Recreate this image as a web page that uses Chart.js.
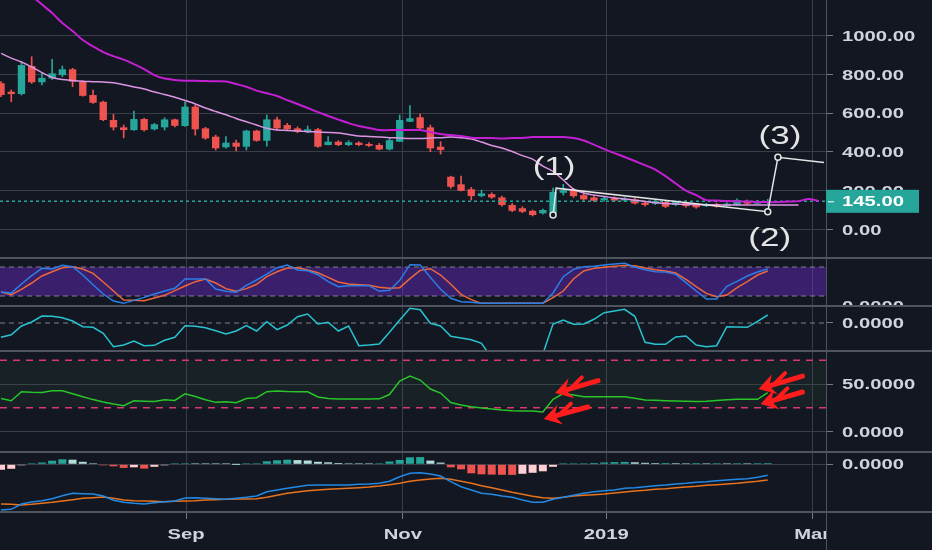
<!DOCTYPE html>
<html>
<head>
<meta charset="utf-8">
<title>BCH 3D chart</title>
<script src="https://cdn.jsdelivr.net/npm/chart.js@4.4.1/dist/chart.umd.min.js"></script>
<style>
  html, body { margin: 0; padding: 0; background: #131722; overflow: hidden; }
  #panes { position: relative; width: 932px; height: 550px; }
  #panes canvas { position: absolute; left: 0; }
</style>
</head>
<body>
<div id="panes">
  <canvas id="priceChart" width="932" height="259" style="top:0"></canvas>
  <canvas id="stochChart" width="932" height="48" style="top:259px"></canvas>
  <canvas id="oscChart" width="932" height="45" style="top:307px"></canvas>
  <canvas id="rsiChart" width="932" height="101" style="top:352px"></canvas>
  <canvas id="macdChart" width="932" height="97" style="top:453px"></canvas>
</div>
<script>
// 3-day candles, x = candle index
const opens  = [755,711,699,844,760,780,797,827,766,694,659,565,527,513,570,517,527,568,534,634,522,479,424,448,427,510,458,568,539,522,504,517,436,453,436,448,441,436,413,453,556,579,527,427,272,233,207,172,182,165,126,109,96,83,83,189,203,177,165,151,161,149,155,137,133,141,126,141,126,120,131,120,126,146,133,137];
const highs  = [763,720,866,892,808,879,844,832,768,720,663,594,539,611,574,548,577,570,659,642,527,487,479,461,513,513,591,580,548,530,534,522,479,458,458,453,448,444,470,591,639,596,539,453,275,275,217,203,189,172,134,117,100,105,213,233,212,188,177,170,168,165,160,142,152,150,146,148,131,136,136,138,158,152,150,155];
const lows   = [685,659,694,754,746,775,789,737,688,651,561,513,473,511,508,513,513,529,532,487,465,410,419,405,410,455,430,513,513,499,499,424,436,432,432,432,427,410,410,453,556,517,401,389,212,199,151,168,160,120,91,86,69,79,74,177,165,150,143,146,144,145,130,120,128,112,122,115,109,117,114,116,122,128,130,133];
const closes = [694,699,849,760,783,806,827,763,690,654,565,527,513,570,513,543,568,535,634,517,470,419,448,427,510,458,568,522,517,504,517,427,453,436,450,436,432,413,461,565,574,522,419,410,220,199,172,186,165,126,96,91,74,100,194,203,172,155,148,161,149,158,134,126,146,117,141,120,114,131,118,133,151,133,144,145];

const maSlow = [1351,1299,1252,1206,1162,1118,1066,1025,978,945,916,895,877,854,828,797,779,772,768,768,766,765,764,751,737,717,703,689,668,648,627,606,586,567,549,534,524,513,513,513,513,513,503,493,487,482,474,472,472,470,472,472,477,477,477,477,472,459,438,415,394,374,353,332,309,275,237,200,177,151,149,146,145,144,142,141,141,144,146,157,146];
const maFast = [909,885,865,839,810,785,774,769,765,763,761,758,747,736,725,710,697,683,666,648,627,609,592,573,556,539,522,513,511,508,505,503,501,498,490,482,480,477,474,472,470,470,472,474,477,474,467,451,433,420,402,381,363,327,299,255,208,188,177,170,162,157,151,144,138,134,131,129,128,127,127,126,126,126,126,126,126,126,126];

const stochK = [28.3,26,44.8,62,77.2,75.8,83.4,80.7,63.4,43.4,24.1,9.6,4.8,11,17.2,24.1,30.3,35.9,55.2,55.2,55.2,34.5,29.7,27.6,42.1,53.1,65.5,78.6,84.1,73.8,72.4,64.1,49.7,39.3,41.4,41.4,41.4,29.7,31.7,52.4,84.8,84.1,58.6,33.8,15.2,8.3,6.9,4.8,4.8,4.8,4.8,4.8,4.8,4.8,26.2,60,75.2,80.7,81.4,84.1,86.2,87.6,80,74.5,70.3,69.6,64.8,47.6,30.3,13.8,13.8,40,50.4,61.4,69.6,75.8];
const stochD = [28.3,22.8,33.8,46.9,61.4,70.3,78.6,80.7,75.8,66.9,49,30.3,11.7,11,10.3,15.9,21.4,31,40.7,49.7,55.2,46.9,35.2,29.7,35.2,44.2,60,70.3,77.9,78.6,73.8,68.2,58.6,49,44.8,43.5,42.1,38,35.9,37.3,55.9,73.1,76.5,63.4,44.2,23.5,12.4,4.8,4.8,4.8,4.8,4.8,4.8,4.8,16.6,30.3,55.2,71.7,77.2,79.3,81.4,83.4,82.8,77.9,74.5,71.7,67.6,54.5,39.3,25.5,18.6,22.1,37.3,49.7,63.4,71.7];
const stochBands = [80, 20];

const oscLine = [-14.3,-11.7,-3,1,7,6.7,5.3,2,-3.7,-4.3,-10.3,-23.7,-22,-18,-22.7,-22.3,-17.3,-14.3,-2.7,-3.3,-4.7,-7.7,-11,-8,-2.7,-8,1.3,-6.7,-2,6.3,9,-1,0.7,-8,-3,-22.7,-22,-21,-9.3,3,14.7,13.3,-0.3,-3,-13.3,-15,-16.7,-20.3,-35,-42,-45,-45,-42,-31,-1,3,-1.3,-1,3.7,10.3,12,13.7,6.7,-19.3,-21.3,-21.3,-14,-13,-22,-23.7,-22.7,-3.7,-4,-4.3,1.7,8];

const rsi = [34.7,32.4,41.9,41.3,41.1,42.9,42.9,39.8,36.7,33.6,31.1,28.9,27.2,32.4,31.9,31.6,33.4,32.7,39.7,36.8,33.5,30.7,31.3,30.4,34.7,35.6,41.9,42.6,42.1,41.9,41.9,36.3,34.7,34.2,34.2,34.2,34.2,34.4,38.9,53.2,58.4,54.2,44.7,40.5,30.5,27.9,26,24.7,23.7,22.6,21.9,21.6,21.6,20.5,34,40,38.4,36.6,36.6,36.6,36.6,36.6,35,33.2,32.8,32.5,32.1,31.8,31.5,31.9,32.7,33.5,33.9,33.9,33.9,41];
const rsiBands = [75, 25];

const macdLine = [-45.7,-45,-39.7,-37.7,-36.4,-34.4,-31.4,-29,-29.4,-29.7,-31.7,-36,-38,-39,-39.7,-38.4,-37.4,-36.7,-33.7,-33.4,-34,-34.4,-35,-34,-33,-31.7,-27.4,-25.7,-24,-22.4,-21,-20.7,-20.7,-20.7,-20.7,-20,-19.7,-19,-17,-12.4,-9,-8.4,-9.7,-11.7,-17.4,-22.4,-25.7,-29,-30,-31.7,-33,-35.7,-38,-38,-35,-33,-31,-29,-27.4,-26.4,-25.7,-24,-23.4,-22.4,-21.4,-20.7,-19.7,-19,-18,-17.4,-16.4,-15.7,-15,-14.4,-13,-11];
const signalLine = [-39.7,-40,-40.7,-40,-39,-38,-36.7,-35.4,-34,-33.4,-32.7,-34,-35.7,-36.4,-36.7,-37,-37.4,-37,-36.7,-36.4,-35.7,-35.4,-35,-34.7,-34.7,-34.4,-33,-31,-29,-27.7,-26.4,-25.7,-25,-24.4,-24,-23.4,-22.7,-21.7,-20.4,-19,-17,-15.7,-14.7,-14,-15,-17,-19,-21.4,-23.4,-25.7,-28,-30,-32,-33.4,-34,-33,-31.7,-31,-30.4,-29.7,-28.7,-27.7,-26.7,-26,-25,-24.4,-23.4,-22.7,-22,-21,-20.4,-19.7,-19,-18,-17,-15.7];
const macdHist = [-5.5,-4.5,-0.5,0.8,1.8,3.6,5,4.6,2.5,1,-1,-2,-3.6,-3,-4.3,-2.5,-0.8,0.3,1,0.6,0.4,0.2,0.1,0,0.5,1,3,4,4.6,4.2,3.8,2.5,2,1.3,1,0.8,0.7,0.9,2.8,4.3,7,7.2,3.7,1.7,-3,-5,-9,-10,-10.3,-10.5,-10.6,-9.5,-8.5,-7,-2.5,0.3,0.6,0.9,1.3,1.8,2.2,2.4,2,1.5,1.2,1.3,1.1,1,1.2,1,1.1,1,1.1,1,1.1,1.2];

const monthTicks = [18.1, 39.3, 59.2, 79.35];
const monthLabels = ['Sep', 'Nov', '2019', 'Mar'];
const priceTicks = [0, 200, 400, 600, 800, 1000];
const lastPrice = 145;

// hand drawn wave count and marks
const wavePath = [{ x: 54, y: 74 }, { x: 54.3, y: 213 }, { x: 75, y: 91 }, { x: 76, y: 372 }, { x: 80.5, y: 346 }];
const waveLabels = [{ x: 54.1, y: 316, text: '(1)' }, { x: 75.2, y: -47, text: '(2)' }, { x: 76.2, y: 479, text: '(3)' }];
const rsiArrows = [
  { x1: 58.4, y1: 53.6, x2: 54.2, y2: 40.5 },
  { x1: 57.4, y1: 25.8, x2: 53.1, y2: 13.2 },
  { x1: 78.4, y1: 58.4, x2: 74.1, y2: 44.7 },
  { x1: 78.4, y1: 41.6, x2: 74.3, y2: 28.9 }
];

const X_MIN = -0.1, X_MAX = 80.7;
const BG = '#131722', GRID = '#393d48', EDGE = '#50545f', TICK = '#787b86', LABEL = '#d1d4dc';
const TEAL = '#26a69a', RED = '#ef5350';
const STRETCH = 1.35;

const pts = arr => arr.map((v, i) => ({ x: i, y: v }));
const hline = v => [{ x: X_MIN, y: v }, { x: X_MAX, y: v }];

function wideText(ctx, text, x, y, align) {
  ctx.save();
  ctx.translate(x, y);
  ctx.scale(STRETCH, 1);
  ctx.textAlign = align;
  ctx.fillText(text, 0, 0);
  ctx.restore();
}

function xAxis(showMarks) {
  return {
    type: 'linear', min: X_MIN, max: X_MAX, offset: false,
    afterBuildTicks: s => { s.ticks = monthTicks.map(v => ({ value: v })); },
    afterFit: s => { s.height = showMarks ? 37 : 0; s.paddingLeft = 0; s.paddingRight = 0; },
    grid: { color: GRID, offset: false, drawTicks: showMarks, tickLength: 6, tickColor: TICK },
    border: { display: false },
    ticks: { display: false }
  };
}

function yAxis(min, max, ticks, gridColor) {
  return {
    type: 'linear', position: 'right', min, max,
    afterBuildTicks: s => { s.ticks = ticks.map(v => ({ value: v })); },
    afterFit: s => { s.width = 106; s.paddingTop = 0; s.paddingBottom = 0; },
    grid: { color: gridColor || GRID, tickLength: 7, tickColor: TICK },
    border: { display: true, color: EDGE },
    ticks: { display: false }
  };
}

function paneOptions(y, digits, withMonths) {
  return {
    responsive: false, animation: false, events: [],
    layout: { autoPadding: false, padding: 0 },
    plugins: {
      legend: { display: false }, tooltip: { enabled: false },
      axisText: { digits, months: withMonths }
    },
    scales: { x: xAxis(withMonths), y }
  };
}

// tick labels, drawn a little wider than the font to match the screenshot
const axisText = {
  id: 'axisText',
  afterDraw(chart, args, opts) {
    const { ctx, chartArea, scales: { x, y } } = chart;
    ctx.save();
    ctx.fillStyle = LABEL;
    ctx.font = 'bold 15px "Liberation Sans"';
    ctx.textBaseline = 'middle';
    y.ticks.forEach(t => wideText(ctx, t.value.toFixed(opts.digits), y.left + 16, y.getPixelForValue(t.value) + 1, 'left'));
    if (opts.months) {
      x.ticks.forEach((t, i) => wideText(ctx, monthLabels[i], x.getPixelForValue(t.value), chartArea.bottom + 22, 'center'));
    }
    ctx.restore();
  }
};

// line along the bottom of each pane, across the price scale too
const paneEdge = {
  id: 'paneEdge',
  afterDraw(chart) {
    const { ctx, chartArea } = chart;
    ctx.save();
    ctx.strokeStyle = EDGE;
    ctx.lineWidth = 2;
    ctx.beginPath();
    ctx.moveTo(0, chartArea.bottom - 1);
    ctx.lineTo(chart.width, chartArea.bottom - 1);
    ctx.stroke();
    ctx.restore();
  }
};

const priceTag = {
  id: 'priceTag',
  afterDraw(chart) {
    const { ctx, scales: { y } } = chart;
    const py = y.getPixelForValue(lastPrice);
    ctx.save();
    ctx.fillStyle = TEAL;
    ctx.fillRect(y.left, py - 11.5, 93, 23);
    ctx.strokeStyle = '#ffffff';
    ctx.lineWidth = 1;
    ctx.beginPath(); ctx.moveTo(y.left + 2, py + 0.5); ctx.lineTo(y.left + 8, py + 0.5); ctx.stroke();
    ctx.fillStyle = '#ffffff';
    ctx.font = 'bold 15px "Liberation Sans"';
    ctx.textBaseline = 'middle';
    wideText(ctx, lastPrice.toFixed(2), y.left + 16, py + 1, 'left');
    ctx.restore();
  }
};

const waveText = {
  id: 'waveText',
  afterDatasetsDraw(chart) {
    const { ctx, scales: { x, y } } = chart;
    ctx.save();
    ctx.fillStyle = '#e4e4e4';
    ctx.font = '26px "Liberation Sans"';
    ctx.textBaseline = 'middle';
    waveLabels.forEach(l => wideText(ctx, l.text, x.getPixelForValue(l.x), y.getPixelForValue(l.y), 'center'));
    ctx.restore();
  }
};

const arrowMarks = {
  id: 'arrowMarks',
  afterDatasetsDraw(chart) {
    const { ctx, scales: { x, y } } = chart;
    ctx.save();
    ctx.strokeStyle = '#ff1c1c';
    ctx.fillStyle = '#ff1c1c';
    ctx.lineCap = 'round';
    ctx.lineJoin = 'round';
    rsiArrows.forEach(a => {
      const tx = x.getPixelForValue(a.x1), ty = y.getPixelForValue(a.y1);
      const hx = x.getPixelForValue(a.x2), hy = y.getPixelForValue(a.y2);
      const ang = Math.atan2(ty - hy, tx - hx);
      const at = (r, d) => [hx + r * Math.cos(ang + d), hy + r * Math.sin(ang + d)];
      ctx.lineWidth = 5;
      ctx.beginPath();
      ctx.moveTo(tx, ty);
      ctx.lineTo(...at(8, 0));
      ctx.stroke();
      ctx.beginPath();
      ctx.moveTo(hx, hy);
      ctx.lineTo(...at(20, -0.55));
      ctx.lineTo(...at(11, 0));
      ctx.lineTo(...at(20, 0.55));
      ctx.closePath();
      ctx.fill();
      // second barb further along the shaft
      ctx.lineWidth = 4;
      const [bx, by] = at(16, 0);
      ctx.beginPath();
      ctx.moveTo(bx, by);
      ctx.lineTo(bx + 16 * Math.cos(ang - 0.5), by + 16 * Math.sin(ang - 0.5));
      ctx.stroke();
    });
    ctx.restore();
  }
};

// hide the part of the last month label that runs under the price scale
const axisCorner = {
  id: 'axisCorner',
  afterDraw(chart) {
    const { ctx, chartArea, scales: { y } } = chart;
    ctx.save();
    ctx.fillStyle = BG;
    ctx.fillRect(y.left + 1, chartArea.bottom, chart.width - y.left, chart.height - chartArea.bottom);
    ctx.strokeStyle = EDGE;
    ctx.lineWidth = 1;
    ctx.beginPath();
    ctx.moveTo(y.left + 0.5, chartArea.bottom);
    ctx.lineTo(y.left + 0.5, chart.height);
    ctx.stroke();
    ctx.restore();
  }
};

const candleColors = closes.map((c, i) => c >= opens[i] ? TEAL : RED);
const histColors = macdHist.map((v, i) => {
  const prev = i > 0 ? macdHist[i - 1] : v;
  if (v >= 0) return v >= prev ? TEAL : '#b2dfdb';
  return v < prev ? RED : '#ffcdd2';
});

// --- price pane ---
new Chart(document.getElementById('priceChart'), {
  type: 'bar',
  data: {
    datasets: [
      { type: 'line', data: wavePath, borderColor: '#e4e4e4', borderWidth: 1.5, tension: 0,
        pointRadius: [3, 0, 3, 3, 0], pointBackgroundColor: BG, pointBorderColor: '#e4e4e4', pointBorderWidth: 1.5 },
      { type: 'line', data: pts(maSlow), borderColor: '#c41fd3', borderWidth: 2, pointRadius: 0, tension: 0.3 },
      { type: 'line', data: pts(maFast), borderColor: '#dc95e4', borderWidth: 1.5, pointRadius: 0, tension: 0.3 },
      { type: 'line', data: hline(lastPrice), borderColor: TEAL, borderWidth: 1.5, borderDash: [3, 3], pointRadius: 0 },
      { type: 'bar', data: opens.map((o, i) => ({ x: i, y: [o, closes[i]] })), backgroundColor: candleColors,
        grouped: false, categoryPercentage: 1, barPercentage: 0.72, minBarLength: 1 },
      { type: 'bar', data: lows.map((l, i) => ({ x: i, y: [l, highs[i]] })), backgroundColor: candleColors,
        grouped: false, barThickness: 1 }
    ]
  },
  options: paneOptions(yAxis(-153, 1185, priceTicks), 2, false),
  plugins: [waveText, axisText, priceTag, paneEdge]
});

// --- stoch RSI pane ---
new Chart(document.getElementById('stochChart'), {
  type: 'line',
  data: {
    datasets: [
      { data: pts(stochK), borderColor: '#2d7fe8', borderWidth: 1.5, pointRadius: 0 },
      { data: pts(stochD), borderColor: '#ec683c', borderWidth: 1.5, pointRadius: 0 },
      { data: hline(stochBands[0]), borderColor: '#80828c', borderWidth: 1, borderDash: [5, 4], pointRadius: 0 },
      { data: hline(stochBands[1]), borderColor: '#80828c', borderWidth: 1, borderDash: [5, 4], pointRadius: 0,
        fill: '-1', backgroundColor: 'rgba(120,45,230,0.38)' }
    ]
  },
  options: paneOptions(yAxis(-2.76, 96.6, [0]), 4, false),
  plugins: [axisText, paneEdge]
});

// --- oscillator pane ---
new Chart(document.getElementById('oscChart'), {
  type: 'line',
  data: {
    datasets: [
      { data: pts(oscLine), borderColor: '#29c3d0', borderWidth: 1.5, pointRadius: 0 },
      { data: hline(0), borderColor: '#80828c', borderWidth: 1, borderDash: [5, 4], pointRadius: 0 }
    ]
  },
  options: paneOptions(yAxis(-29, 16, [0], 'rgba(0,0,0,0)'), 4, false),
  plugins: [axisText, paneEdge]
});

// --- RSI pane ---
new Chart(document.getElementById('rsiChart'), {
  type: 'line',
  data: {
    datasets: [
      { data: pts(rsi), borderColor: '#2ac52a', borderWidth: 1.5, pointRadius: 0 },
      { data: hline(rsiBands[0]), borderColor: '#d9396f', borderWidth: 1.5, borderDash: [7, 6], pointRadius: 0 },
      { data: hline(rsiBands[1]), borderColor: '#d9396f', borderWidth: 1.5, borderDash: [7, 6], pointRadius: 0,
        fill: '-1', backgroundColor: 'rgba(60,130,80,0.10)' }
    ]
  },
  options: paneOptions(yAxis(-22.6, 83.7, [0, 50]), 4, false),
  plugins: [arrowMarks, axisText, paneEdge]
});

// --- MACD pane ---
new Chart(document.getElementById('macdChart'), {
  type: 'line',
  data: {
    datasets: [
      { data: pts(macdLine), borderColor: '#2389e3', borderWidth: 1.5, pointRadius: 0 },
      { data: pts(signalLine), borderColor: '#e8731e', borderWidth: 1.5, pointRadius: 0 },
      { type: 'bar', data: pts(macdHist), backgroundColor: histColors, grouped: false,
        categoryPercentage: 1, barPercentage: 0.78, minBarLength: 1 }
    ]
  },
  options: paneOptions(yAxis(-48.7, 11.3, [0]), 4, true),
  plugins: [axisText, axisCorner, paneEdge]
});
</script>
</body>
</html>
